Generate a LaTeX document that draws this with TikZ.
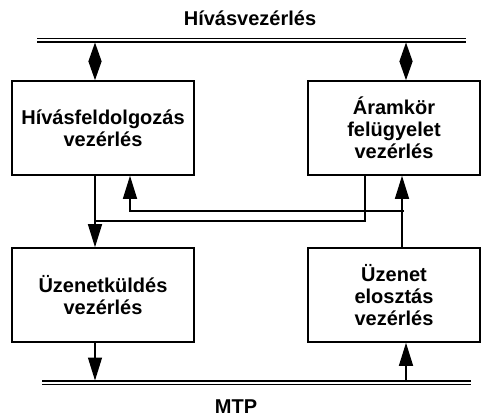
\documentclass[tikz,border=0pt]{standalone}
\usepackage{fontspec}
\setmainfont{Liberation Sans}
\usetikzlibrary{arrows.meta,calc}
\begin{document}
\begin{tikzpicture}[x=1pt,y=-1pt,
  lbl/.style={font=\bfseries\fontsize{20}{22}\selectfont, align=center, inner sep=0pt},
  blk/.style={draw, line width=1.6pt, minimum height=94pt, inner sep=0pt,
    font=\bfseries\fontsize{20}{22}\selectfont, align=center},
  bus/.style={double, line width=1.1pt, double distance=2pt},
  conn/.style={line width=1.3pt},
  tip/.style={conn, -{Triangle[length=23pt,width=14pt]}},
  bitip/.style={conn, {Triangle[length=19pt,width=13pt]}-{Triangle[length=19pt,width=13pt]}}]
  \useasboundingbox (0,0) rectangle (482,417);

  % buses
  \coordinate (hbL) at (37,40.5);
  \coordinate (hbR) at (466,40.5);
  \coordinate (mbL) at (42,382.5);
  \coordinate (mbR) at (471,382.5);
  \draw[bus] (hbL) -- (hbR);
  \draw[bus] (mbL) -- (mbR);
  \node[lbl] (hv) at (250,18) {Hívásvezérlés};
  \node[lbl] (mtp) at (236,407) {MTP};

  % blocks
  \node[blk, minimum width=182pt] (A) at (103,128) {Hívásfeldolgozás\\vezérlés};
  \node[blk, minimum width=172pt] (B) at (394,128) {Áramkör\\felügyelet\\vezérlés};
  \node[blk, minimum width=182pt] (C) at (103,295) {Üzenetküldés\\vezérlés};
  \node[blk, minimum width=172pt] (D) at (394,295) {Üzenet\\elosztás\\vezérlés};

  % x positions of the vertical links
  \coordinate (xa) at (95,0);
  \coordinate (xb) at (406,0);
  \coordinate (xc) at (130,0);
  \coordinate (xd) at (365,0);
  \coordinate (xe) at (402,0);
  \coordinate (y1) at (0,211);
  \coordinate (y2) at (0,221);

  % links to the call control bus
  \draw[bitip, shorten <=2pt] (hbL -| xa) -- (A.north -| xa);
  \draw[bitip, shorten <=2pt] (hbL -| xb) -- (B.north -| xb);

  % links to MTP
  \draw[tip, shorten >=2pt] (C.south -| xa) -- (mbL -| xa);
  \draw[tip, shorten <=2pt] (mbL -| xb) -- (D.south -| xb);

  % internal links
  \draw[tip] (A.south -| xa) -- (C.north -| xa);
  \draw[conn] (B.south -| xd) |- (y2 -| xa);
  \draw[tip] (D.north -| xe) -- (B.south -| xe);
  \draw[tip] ($(y1 -| xe)+(2,0)$) -| (A.south -| xc);
\end{tikzpicture}
\end{document}
